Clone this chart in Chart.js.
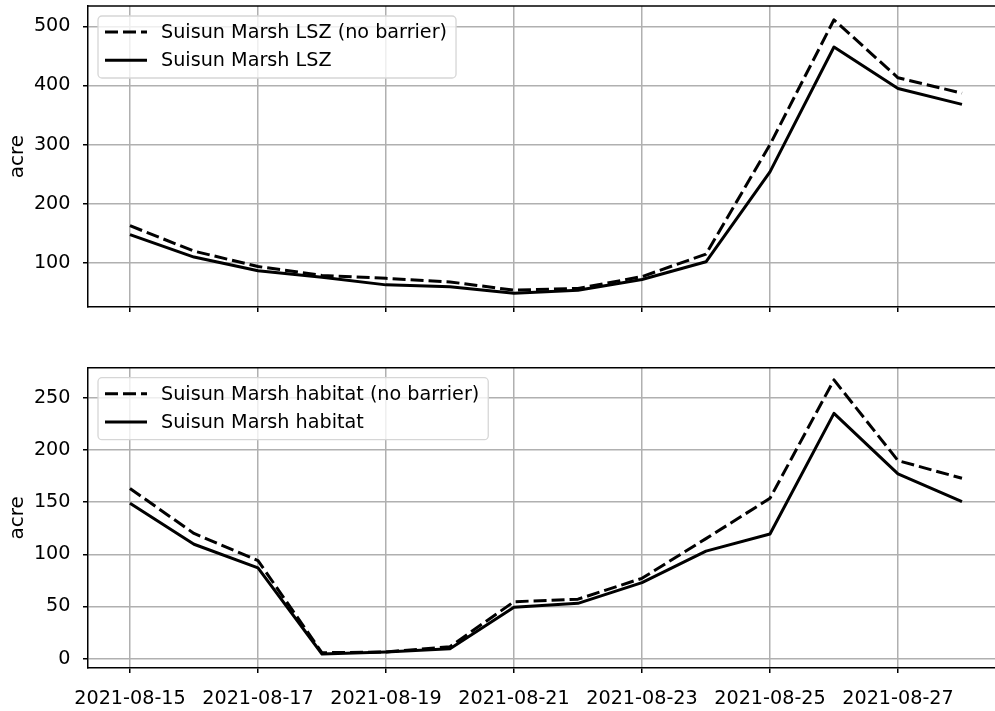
<!DOCTYPE html>
<html>
<head>
<meta charset="utf-8">
<script src="https://cdn.jsdelivr.net/npm/chart.js@4"></script>
<style>
  html, body { margin: 0; padding: 0; background: #fff; }
  #wrap { position: relative; width: 995px; height: 711px; overflow: hidden; }
  canvas { position: absolute; left: 0; }
</style>
</head>
<body>
<div id="wrap">
  <canvas id="topChart" width="995" height="330" style="top:0"></canvas>
  <canvas id="bottomChart" width="995" height="381" style="top:330px"></canvas>
</div>
<script>
// --- data --- //
const dates = ["2021-08-15", "2021-08-16", "2021-08-17", "2021-08-18", "2021-08-19", "2021-08-20", "2021-08-21",
               "2021-08-22", "2021-08-23", "2021-08-24", "2021-08-25", "2021-08-26", "2021-08-27", "2021-08-28"];

const lszNoBarrier = [163, 120, 94, 79, 74, 68, 54, 57, 77, 115, 300, 511, 413, 387];
const lsz          = [148, 110, 87, 76, 63, 60, 49, 54, 72, 102, 254, 465, 395, 368];

const habitatNoBarrier = [163, 120, 94, 5.7, 6.5, 11.5, 54.6, 57, 77, 115, 153.6, 267, 189.7, 172.8];
const habitat          = [148.8, 109.6, 87, 4.5, 6.4, 9.5, 49.2, 53, 72.8, 103, 119.4, 235, 177, 150.4];

const xTicks = [0, 2, 4, 6, 8, 10, 12];
const topTicks = [100, 200, 300, 400, 500];
const bottomTicks = [0, 50, 100, 150, 200, 250];

const FONT = '"DejaVu Sans", sans-serif';
const FSIZE = 19.2;
Chart.defaults.color = '#000';
Chart.defaults.font.family = FONT;
Chart.defaults.font.size = FSIZE;

function toPoints(arr) {
  return arr.map((v, i) => ({ x: i, y: v }));
}

// kotak legenda ala matplotlib, di pojok kiri atas area plot
const legendBox = {
  id: 'legendBox',
  afterDraw(chart) {
    const { ctx, chartArea: a } = chart;
    const sets = chart.data.datasets;
    ctx.save();
    ctx.font = FSIZE + 'px ' + FONT;
    const w = Math.max(...sets.map(d => ctx.measureText(d.label).width));
    const x = a.left + 10, y = a.top + 10, bw = 63 + w + 9, bh = 62;
    ctx.beginPath();
    ctx.roundRect(x, y, bw, bh, 4);
    ctx.fillStyle = 'rgba(255,255,255,0.8)';
    ctx.fill();
    ctx.strokeStyle = '#d6d6d6';
    ctx.lineWidth = 1.3;
    ctx.stroke();
    sets.forEach((d, i) => {
      const cy = y + 16 + i * 28.3;
      ctx.beginPath();
      ctx.setLineDash(d.borderDash || []);
      ctx.moveTo(x + 7, cy);
      ctx.lineTo(x + 49, cy);
      ctx.lineWidth = d.borderWidth;
      ctx.strokeStyle = d.borderColor;
      ctx.stroke();
      ctx.setLineDash([]);
      ctx.fillStyle = '#000';
      ctx.textBaseline = 'middle';
      ctx.textAlign = 'left';
      ctx.fillText(d.label, x + 63, cy + 1);
    });
    ctx.restore();
  }
};

// garis tepi atas
const topSpine = {
  id: 'topSpine',
  afterDraw(chart) {
    const { ctx, chartArea: a } = chart;
    ctx.save();
    ctx.beginPath();
    ctx.moveTo(a.left, a.top);
    ctx.lineTo(a.right, a.top);
    ctx.lineWidth = 1.5;
    ctx.strokeStyle = '#000';
    ctx.stroke();
    ctx.restore();
  }
};

function makeChart(id, labels, series, yMin, yMax, yTicks, axisH, padTop, showX) {
  const ctx = document.getElementById(id).getContext('2d');
  return new Chart(ctx, {
    type: 'line',
    data: {
      datasets: [
        {
          label: labels[0],
          data: toPoints(series[0]),
          borderColor: '#000',
          borderWidth: 3,
          borderDash: [13, 5],
          borderJoinStyle: 'round',
          pointRadius: 0,
          tension: 0,
          fill: false
        },
        {
          label: labels[1],
          data: toPoints(series[1]),
          borderColor: '#000',
          borderWidth: 3,
          borderJoinStyle: 'round',
          pointRadius: 0,
          tension: 0,
          fill: false
        }
      ]
    },
    options: {
      responsive: false,
      animation: false,
      layout: { padding: { top: padTop, left: 0, right: 0, bottom: 0 } },
      plugins: {
        legend: { display: false },
        tooltip: { enabled: false }
      },
      scales: {
        x: {
          type: 'linear',
          min: -0.656,
          max: 13.516,
          afterBuildTicks: s => { s.ticks = xTicks.map(v => ({ value: v })); },
          afterFit: s => { s.height = axisH; s.paddingLeft = 0; s.paddingRight = 0; },
          ticks: {
            display: showX,
            padding: 14.5,
            maxRotation: 0,
            autoSkip: false,
            callback: v => dates[v]
          },
          grid: { color: '#b0b0b0', lineWidth: 1.5, tickColor: '#000', tickWidth: 1.5, tickLength: 5 },
          border: { color: '#000', width: 1.5 }
        },
        y: {
          min: yMin,
          max: yMax,
          afterBuildTicks: s => { s.ticks = yTicks.map(v => ({ value: v })); },
          afterFit: s => { s.width = 88; s.paddingTop = 0; s.paddingBottom = 0; },
          ticks: { padding: 12.5 },
          title: { display: true, text: 'acre', font: { size: 20 }, padding: { top: 6, bottom: 0 } },
          grid: { color: '#b0b0b0', lineWidth: 1.5, tickColor: '#000', tickWidth: 1.5, tickLength: 5 },
          border: { color: '#000', width: 1.5 }
        }
      }
    },
    plugins: [topSpine, legendBox]
  });
}

makeChart('topChart',
  ['Suisun Marsh LSZ (no barrier)', 'Suisun Marsh LSZ'],
  [lszNoBarrier, lsz], 25.6, 534.3, topTicks, 23, 6, false);

makeChart('bottomChart',
  ['Suisun Marsh habitat (no barrier)', 'Suisun Marsh habitat'],
  [habitatNoBarrier, habitat], -8.9, 278.7, bottomTicks, 43, 37.7, true);
</script>
</body>
</html>
